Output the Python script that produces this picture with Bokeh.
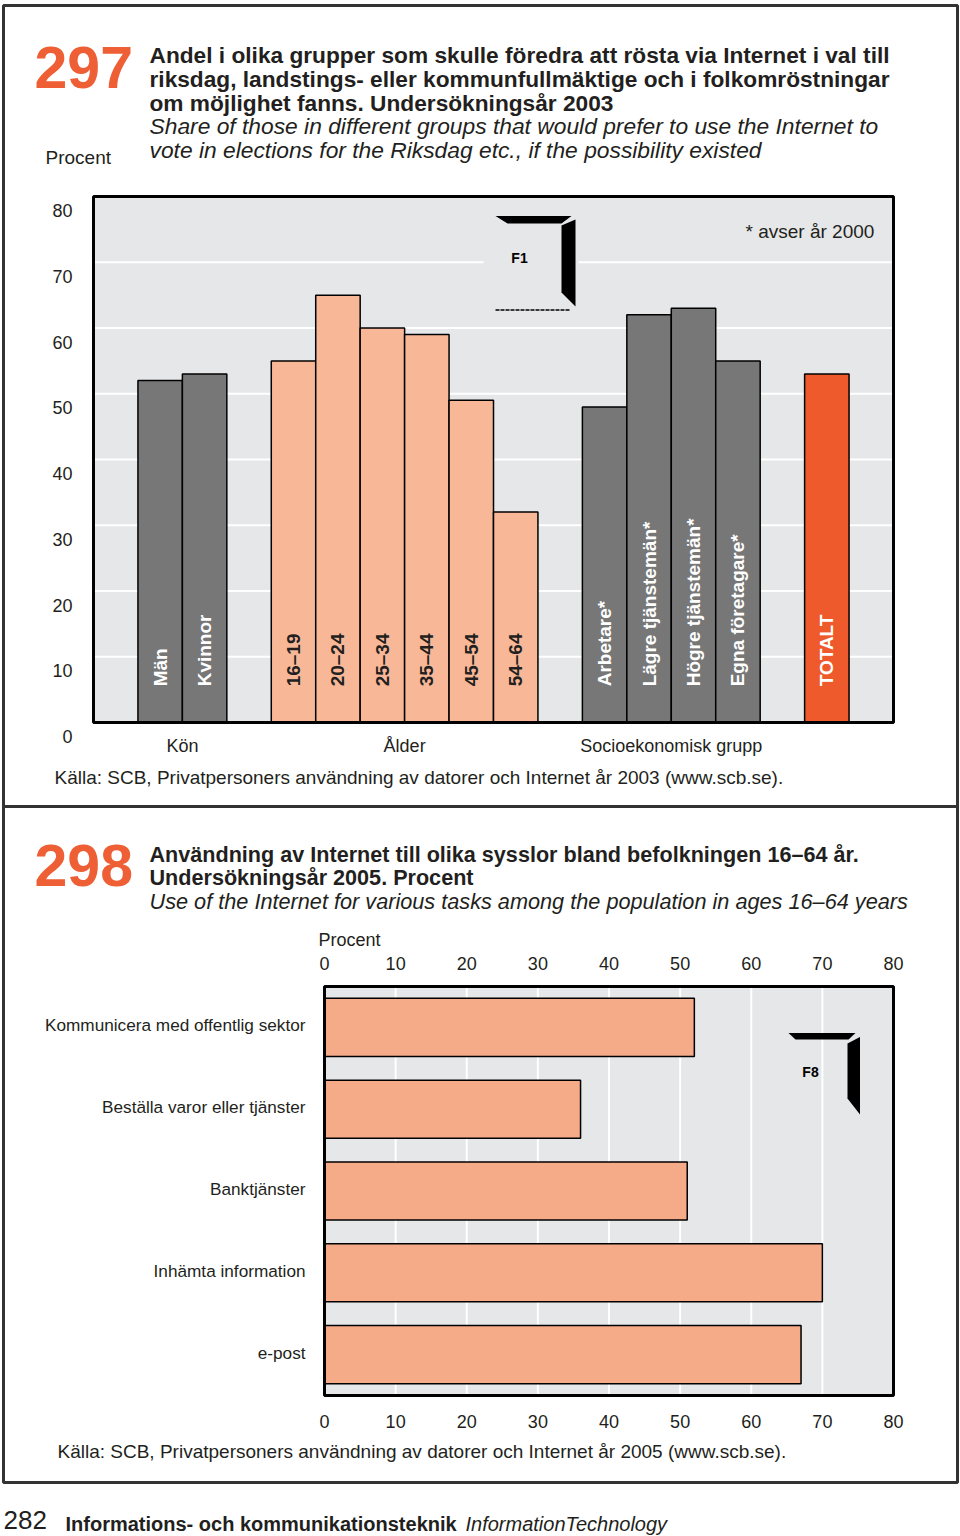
import math
from bokeh.plotting import figure
from bokeh.models import Range1d, Label, ColumnDataSource
from bokeh.embed import file_html
from bokeh.resources import INLINE
from bokeh.core.properties import value

# ---------------- data: chart 297 ----------------
group_names = ["Kön", "Ålder", "Socioekonomisk grupp", ""]
kon_cats = ["Män", "Kvinnor"]
kon_vals = [52, 53]
alder_cats = ["16–19", "20–24", "25–34", "35–44", "45–54", "54–64"]
alder_vals = [55, 65, 60, 59, 49, 32]
socio_cats = ["Arbetare*", "Lägre tjänstemän*", "Högre tjänstemän*", "Egna företagare*"]
socio_vals = [48, 62, 63, 55]
total_cats = ["TOTALT"]
total_vals = [53]
y_ticks_297 = [0, 10, 20, 30, 40, 50, 60, 70, 80]

# ---------------- data: chart 298 ----------------
tasks_298 = ["Kommunicera med offentlig sektor", "Beställa varor eller tjänster",
             "Banktjänster", "Inhämta information", "e-post"]
vals_298 = [52, 36, 51, 70, 67]
x_ticks_298 = [0, 10, 20, 30, 40, 50, 60, 70, 80]

# ---------------- styles ----------------
FONT = "Liberation Sans"
TEXT = "#231F20"
BG = "#E6E7E8"
GRAY = "#777777"
PEACH1 = "#F8B898"
PEACH2 = "#F5AA88"
TOTAL = "#EE5A2C"
NUMCOL = "#EE5F35"
BOX = "#333333"
group_style = {"Kön": (GRAY, "white"), "Ålder": (PEACH1, TEXT),
               "Socioekonomisk grupp": (GRAY, "white"), "": (TOTAL, "white")}

W, H = 960, 1536

# One page-sized figure; the charts get their own scales as extra ranges.
p = figure(width=W, height=H, x_range=Range1d(0, W), y_range=Range1d(H, 0),
           output_backend="svg", toolbar_location=None,
           x_axis_location=None, y_axis_location=None, min_border=0,
           outline_line_color=None, background_fill_color="white", border_fill_color="white")
p.xgrid.visible = False
p.ygrid.visible = False


def range_x(px_a, val_a, px_b, val_b):
    k = (val_b - val_a) / (px_b - px_a)
    return Range1d(val_a - px_a * k, val_a + (W - px_a) * k)


def range_y(py_a, val_a, py_b, val_b):
    k = (val_b - val_a) / (py_b - py_a)
    return Range1d(val_a + (H - py_a) * k, val_a - py_a * k)


# chart 297 plot area: x 93..893, y 722 (0) .. 196 (80); 18 slots wide
n_slots = sum(len(c) for c in [kon_cats, alder_cats, socio_cats, total_cats]) + 5
p.extra_x_ranges["c1x"] = range_x(93, 0, 893, n_slots)
p.extra_y_ranges["c1y"] = range_y(722, 0, 196, 80)
# chart 298 plot area: x 324 (0) .. 893 (80), y 1395 .. 986, 5 slots
p.extra_x_ranges["c2x"] = range_x(324, 0, 893, 80)
p.extra_y_ranges["c2y"] = range_y(1395, 0, 986, len(tasks_298))

# ---------------- page boxes ----------------
p.quad(left=[3, 3], right=[957, 957], top=[5, 806], bottom=[806, 1482],
       fill_color=None, line_color=BOX, line_width=3)

# ---------------- chart 297 ----------------
groups_data = [(group_names[0], kon_cats, kon_vals), (group_names[1], alder_cats, alder_vals),
               (group_names[2], socio_cats, socio_vals), (group_names[3], total_cats, total_vals)]
xs, tops, fills, tcols, names, gx, gname = [], [], [], [], [], [], []
pos = 1
for g, cats, vals in groups_data:
    start = pos
    for c, v in zip(cats, vals):
        xs.append(pos + 0.5)
        tops.append(v)
        fills.append(group_style[g][0])
        tcols.append(group_style[g][1])
        names.append(c)
        pos += 1
    gx.append((start + pos) / 2)
    gname.append(g)
    pos += 1
src1 = ColumnDataSource(dict(x=xs, top=tops, fill=fills, tcol=tcols, name=names))

p.quad(left=0, right=n_slots, bottom=0, top=80, fill_color=BG, line_color=None,
       x_range_name="c1x", y_range_name="c1y")
p.segment(x0=0, x1=n_slots, y0=y_ticks_297[1:-1], y1=y_ticks_297[1:-1], line_color="white",
          line_width=2, x_range_name="c1x", y_range_name="c1y")
# F1 key picture background (covers gridline)
p.quad(left=483, right=578, top=208, bottom=314, fill_color=BG, line_color=None)

p.vbar(x="x", top="top", width=1.0, source=src1, fill_color="fill", line_color="black",
       line_width=1.5, x_range_name="c1x", y_range_name="c1y")
p.text(x="x", y=5.5, text="name", source=src1, angle=math.pi / 2, text_align="left",
       text_baseline="middle", text_color="tcol", text_font=value(FONT),
       text_font_style="bold", text_font_size="19px", x_range_name="c1x", y_range_name="c1y")
p.quad(left=0, right=n_slots, bottom=0, top=80, fill_color=None, line_color="black",
       line_width=3, x_range_name="c1x", y_range_name="c1y")

# y tick labels (sit slightly below gridlines as in the print)
p.text(x=72, y=y_ticks_297, text=[str(t) for t in y_ticks_297], y_offset=14,
       text_align="right", text_baseline="middle", text_color=TEXT, text_font=value(FONT),
       text_font_size="18px", y_range_name="c1y")
# group labels
p.text(x=gx, y=745, text=gname, text_align="center", text_baseline="middle",
       text_color=TEXT, text_font=value(FONT), text_font_size="18px", x_range_name="c1x")

# F1 key picture
p.patches(xs=[[495, 571, 561, 507], [561, 575, 575, 561]],
          ys=[[215.5, 215.5, 223, 223], [225, 219, 306, 292]],
          fill_color="black", line_color=None)
p.line(x=[495, 570], y=[309.5, 309.5], line_color="black", line_width=1.5, line_dash="4 1")


def lab(text, x, y, size, style="normal", color=TEXT, align="left"):
    p.add_layout(Label(x=x, y=y, text=text, text_font=FONT, text_font_size=size,
                       text_font_style=style, text_color=color, text_align=align,
                       text_baseline="middle"))


lab("F1", 519, 257, "14px", "bold", "black", "center")
lab("297", 34, 66.5, "59px", "bold", NUMCOL)
lab("Andel i olika grupper som skulle föredra att rösta via Internet i val till", 149, 54.5, "22.7px", "bold")
lab("riksdag, landstings- eller kommunfullmäktige och i folkomröstningar", 149, 78.5, "22.7px", "bold")
lab("om möjlighet fanns. Undersökningsår 2003", 149, 102, "22.7px", "bold")
lab("Share of those in different groups that would prefer to use the Internet to", 149, 125.5, "22.8px", "italic")
lab("vote in elections for the Riksdag etc., if the possibility existed", 149, 149.5, "22.8px", "italic")
lab("Procent", 45, 157, "19px")
lab("* avser år 2000", 745, 231, "19px")
lab("Källa: SCB, Privatpersoners användning av datorer och Internet år 2003 (www.scb.se).", 54, 777, "19px")

# ---------------- chart 298 ----------------
n2 = len(tasks_298)
ycent = [n2 - i - 0.5 for i in range(n2)]
src2 = ColumnDataSource(dict(y=ycent, right=vals_298, name=tasks_298))
p.quad(left=0, right=80, bottom=0, top=n2, fill_color=BG, line_color=None,
       x_range_name="c2x", y_range_name="c2y")
p.segment(x0=x_ticks_298[1:-1], x1=x_ticks_298[1:-1], y0=0, y1=n2, line_color="white",
          line_width=2, x_range_name="c2x", y_range_name="c2y")
p.hbar(y="y", left=0, right="right", height=0.71, source=src2, fill_color=PEACH2,
       line_color="black", line_width=1.5, x_range_name="c2x", y_range_name="c2y")
p.quad(left=0, right=80, bottom=0, top=n2, fill_color=None, line_color="black",
       line_width=3, x_range_name="c2x", y_range_name="c2y")
# category labels
p.text(x=305, y="y", text="name", source=src2, y_offset=-2, text_align="right",
       text_baseline="middle", text_color=TEXT, text_font=value(FONT),
       text_font_size="17.2px", y_range_name="c2y")
# tick labels top and bottom
tick_txt = [str(t) for t in x_ticks_298]
p.text(x=x_ticks_298, y=963, text=tick_txt, text_align="center", text_baseline="middle",
       text_color=TEXT, text_font=value(FONT), text_font_size="18px", x_range_name="c2x")
p.text(x=x_ticks_298, y=1421, text=tick_txt, text_align="center", text_baseline="middle",
       text_color=TEXT, text_font=value(FONT), text_font_size="18px", x_range_name="c2x")

# F8 key picture
p.patches(xs=[[788, 855, 848, 795], [847, 859.5, 859.5, 847]],
          ys=[[1032.5, 1032.5, 1039, 1039], [1043, 1036.5, 1114, 1098]],
          fill_color="black", line_color=None)
lab("F8", 810, 1071, "14px", "bold", "black", "center")

lab("298", 34, 865, "59px", "bold", NUMCOL)
lab("Användning av Internet till olika sysslor bland befolkningen 16–64 år.", 149, 853.5, "21.6px", "bold")
lab("Undersökningsår 2005. Procent", 149, 877, "21.6px", "bold")
lab("Use of the Internet for various tasks among the population in ages 16–64 years", 149, 901, "21.7px", "italic")
lab("Procent", 318, 939, "18px")
lab("Källa: SCB, Privatpersoners användning av datorer och Internet år 2005 (www.scb.se).", 57, 1451, "19px")
lab("282", 3, 1519, "26px")
lab("Informations- och kommunikationsteknik", 65, 1523, "20px", "bold")
lab("InformationTechnology", 465, 1523, "20px", "italic")

open("out.html", "w").write(file_html(p, INLINE))
